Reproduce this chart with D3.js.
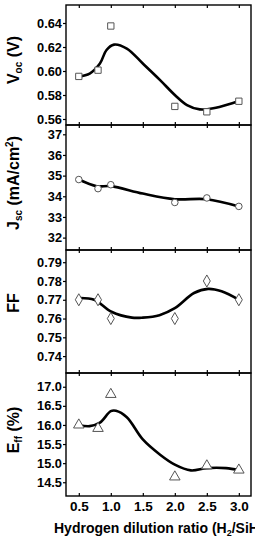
<!DOCTYPE html>
<html><head><meta charset="utf-8">
<script src="https://cdn.jsdelivr.net/npm/d3@7"></script>
<style>body{margin:0;background:#fff}svg{display:block}</style>
</head><body>
<svg id="c" width="255" height="537"></svg>
<script>
const xVals = [0.5, 0.8, 1.0, 2.0, 2.5, 3.0];
const vocVals = [0.5955, 0.6007, 0.6375, 0.5705, 0.566, 0.5748];
const jscVals = [34.81, 34.37, 34.56, 33.7, 33.92, 33.51];
const ffVals = [0.77, 0.77, 0.76, 0.76, 0.78, 0.77];
const effVals = [16.0, 15.91, 16.8, 14.64, 14.93, 14.82];

const vocFitX = [0.5, 0.67, 0.83, 0.93, 1.05, 1.25, 1.5, 1.77, 2.0, 2.19, 2.39, 2.6, 3.0];
const vocFitY = [0.5954, 0.5979, 0.6062, 0.6173, 0.622, 0.6187, 0.6062, 0.5924, 0.58, 0.5716, 0.568, 0.5689, 0.575];
const jscFitX = [0.5, 0.78, 1.0, 1.5, 2.0, 2.5, 3.0];
const jscFitY = [34.81, 34.49, 34.49, 34.13, 33.86, 33.86, 33.51];
const ffFitX = [0.5, 0.74, 1.01, 1.33, 1.5, 1.76, 2.0, 2.3, 2.52, 2.73, 3.0];
const ffFitY = [0.7709, 0.770, 0.7636, 0.7605, 0.7605, 0.7618, 0.7655, 0.7736, 0.7758, 0.7745, 0.770];
const effFitX = [0.5, 0.67, 0.83, 1.0, 1.08, 1.25, 1.5, 1.77, 2.0, 2.25, 2.5, 2.8, 3.0];
const effFitY = [16.0, 15.97, 16.06, 16.36, 16.37, 16.2, 15.62, 15.22, 14.96, 14.81, 14.87, 14.87, 14.82];

const vocTicks = [0.56, 0.58, 0.60, 0.62, 0.64];
const jscTicks = [32, 33, 34, 35, 36, 37];
const ffTicks = [0.74, 0.75, 0.76, 0.77, 0.78, 0.79];
const effTicks = [14.5, 15.0, 15.5, 16.0, 16.5, 17.0];
const xTicks = [0.5, 1.0, 1.5, 2.0, 2.5, 3.0];

const svg = d3.select('#c');
const L = 66, R = 251;
const x = d3.scaleLinear().domain([0.3, 3.19]).range([L, R]);
const FONT = 'Liberation Sans, Arial, sans-serif';

const panels = [
  {top:5, bot:125, dom:[0.555,0.655], ticks:vocTicks, fmt:'.2f', vals:vocVals, fx:vocFitX, fy:vocFitY, sym:d3.symbolSquare, size:40, lab:[['V',0,16],['oc',3,10],[' (V)',-3,16]], lc:60},
  {top:125, bot:250, dom:[31.4,37.45], ticks:jscTicks, fmt:'d', vals:jscVals, fx:jscFitX, fy:jscFitY, sym:d3.symbolCircle, size:34, lab:[['J',0,16],['sc',3,10],[' (mA/cm',-3,16],['2',-6,10],[')',6,16]], lc:183},
  {top:250, bot:373, dom:[0.731,0.7965], ticks:ffTicks, fmt:'.2f', vals:ffVals, fx:ffFitX, fy:ffFitY, sym:d3.symbolDiamond, size:42, lab:[['FF',0,16]], lc:303},
  {top:373, bot:496, dom:[14.14,17.36], ticks:effTicks, fmt:'.1f', vals:effVals, fx:effFitX, fy:effFitY, sym:d3.symbolTriangle, size:48, lab:[['E',0,16],['ff',3,10],[' (%)',-3,16]], lc:430},
];

panels.forEach((p, i) => {
  const y = d3.scaleLinear().domain(p.dom).range([p.bot, p.top]);
  const g = svg.append('g');
  g.append('path')
    .datum(p.fx.map((v, k) => [v, p.fy[k]]))
    .attr('fill','none').attr('stroke','#000').attr('stroke-width',2.6)
    .attr('d', d3.line().x(d => x(d[0])).y(d => y(d[1])).curve(d3.curveCatmullRom.alpha(0.5)));
  g.selectAll('path.m').data(xVals.map((v, k) => [v, p.vals[k]])).join('path')
    .attr('class','m')
    .attr('transform', d => `translate(${x(d[0])},${y(d[1])})`)
    .attr('d', d3.symbol().type(p.sym).size(p.size))
    .attr('fill','#fff').attr('stroke','#555').attr('stroke-width',1);
  const ya = g.append('g').attr('transform',`translate(${L},0)`)
    .call(d3.axisLeft(y).tickValues(p.ticks).tickFormat(d3.format(p.fmt)).tickSize(3).tickPadding(1));
  ya.select('.domain').remove();
  ya.selectAll('line').attr('stroke','#000').attr('stroke-width',1.2);
  ya.selectAll('text').attr('font-family',FONT).attr('font-weight','bold').attr('font-size',12.8).attr('fill','#000');
  const xa = g.append('g').attr('transform',`translate(0,${p.bot})`)
    .call(d3.axisBottom(x).tickValues(xTicks).tickSize(3).tickFormat(''));
  xa.select('.domain').remove();
  xa.selectAll('line').attr('stroke','#000').attr('stroke-width',1.2).attr('y1', -3).attr('y2', i === 3 ? 0 : 3);
  if (i === 0) {
    const ta = g.append('g').attr('transform',`translate(0,${p.top})`)
      .call(d3.axisBottom(x).tickValues(xTicks).tickSize(3).tickFormat(''));
    ta.select('.domain').remove();
    ta.selectAll('line').attr('stroke','#000').attr('stroke-width',1.2);
  }
  g.append('rect').attr('x',L).attr('y',p.top).attr('width',R-L).attr('height',p.bot-p.top)
    .attr('fill','none').attr('stroke','#000').attr('stroke-width',1.4);
  const t = g.append('text').attr('transform',`translate(19,${p.lc}) rotate(-90)`)
    .attr('text-anchor','middle').attr('font-family',FONT)
    .attr('font-weight','bold').attr('fill','#000');
  p.lab.forEach(([s, dy, fs]) => {
    t.append('tspan').text(s).attr('dy', dy).attr('font-size', fs);
  });
});

const bx = svg.append('g').attr('transform','translate(0,496)')
  .call(d3.axisBottom(x).tickValues(xTicks).tickFormat(d3.format('.1f')).tickSize(0).tickPadding(5));
bx.select('.domain').remove();
bx.selectAll('text').attr('font-family',FONT).attr('font-weight','bold').attr('font-size',13.5).attr('fill','#000');

const xt = svg.append('text').attr('x',54).attr('y',533)
  .attr('font-family',FONT).attr('font-weight','bold').attr('font-size',14).attr('fill','#000');
xt.append('tspan').text('Hydrogen dilution ratio (H');
xt.append('tspan').text('2').attr('font-size',9).attr('dy',3);
xt.append('tspan').text('/SiH').attr('dy',-3);
xt.append('tspan').text('4').attr('font-size',9).attr('dy',3);
xt.append('tspan').text(')').attr('dy',-3);
</script>
</body></html>
